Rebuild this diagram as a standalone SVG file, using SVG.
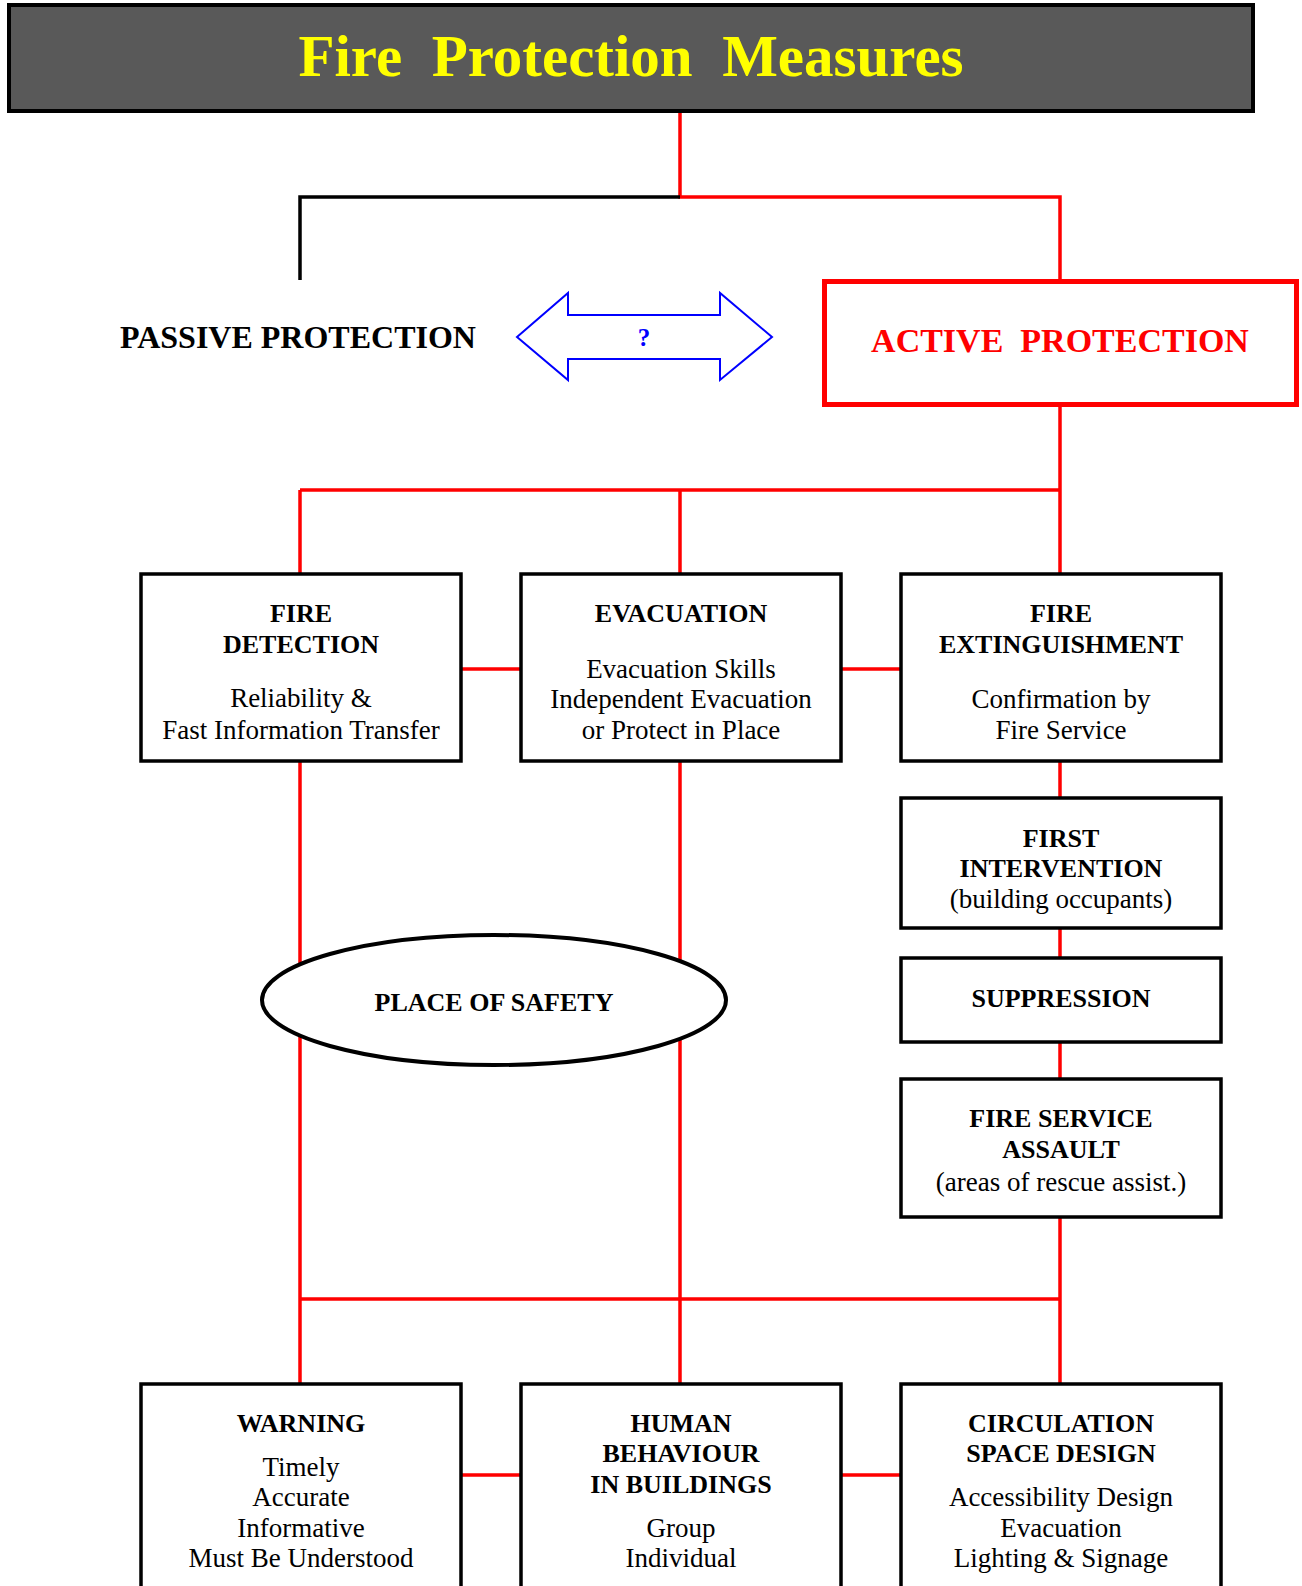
<svg xmlns="http://www.w3.org/2000/svg" width="1302" height="1586" viewBox="0 0 1302 1586">
<style>
text{font-family:"Liberation Serif","Times New Roman",serif;text-anchor:middle;fill:#000}
.b{font-weight:bold;font-size:26px}
.r{font-size:27px}
.box{fill:#fff;stroke:#000;stroke-width:3.5}
.red{stroke:#f00;stroke-width:3.5;fill:none}
</style>
<rect width="1302" height="1586" fill="#fff"/>
<g id="connectors">
<path class="red" d="M680 111V197H1060V282"/>
<path d="M680 197H300V280" fill="none" stroke="#000" stroke-width="3.5"/>
<path class="red" d="M1060 405V490M300 490H1060M300 490V574M680 490V574M1060 490V574"/>
<path class="red" d="M461 669H521M841 669H900"/>
<path class="red" d="M300 761V1384M680 761V1384M1060 761V798M1060 928V958M1060 1042V1079M1060 1217V1384M300 1299H1060"/>
<path class="red" d="M461 1475H521M841 1475H900"/>
</g>
<g id="title">
<rect x="9" y="5" width="1244" height="106" fill="#595959" stroke="#000" stroke-width="4"/>
<text x="631" y="76" style="font-size:59px;font-weight:bold;fill:#ff0" xml:space="preserve">Fire  Protection  Measures</text>
</g>
<g id="passive">
<text x="298" y="348" style="font-size:32px;font-weight:bold">PASSIVE PROTECTION</text>
</g>
<g id="arrow">
<path d="M517 337L568 293V315H720V293L772 337L720 380V359H568V380Z" fill="#fff" stroke="#00f" stroke-width="2"/>
<text x="644" y="346" style="font-size:25px;font-weight:bold;fill:#00f">?</text>
</g>
<g id="active">
<rect x="824.5" y="281.5" width="472" height="123" fill="#fff" stroke="#f00" stroke-width="5"/>
<text x="1060" y="352" xml:space="preserve" style="font-size:34px;font-weight:bold;fill:#f00">ACTIVE  PROTECTION</text>
</g>
<g id="fire-detection">
<rect class="box" x="141" y="574" width="320" height="187"/>
<text class="b" x="301" y="622">FIRE</text>
<text class="b" x="301" y="653">DETECTION</text>
<text class="r" x="301" y="707">Reliability &amp;</text>
<text class="r" x="301" y="739">Fast Information Transfer</text>
</g>
<g id="evacuation">
<rect class="box" x="521" y="574" width="320" height="187"/>
<text class="b" x="681" y="622">EVACUATION</text>
<text class="r" x="681" y="678">Evacuation Skills</text>
<text class="r" x="681" y="708">Independent Evacuation</text>
<text class="r" x="681" y="739">or Protect in Place</text>
</g>
<g id="fire-extinguishment">
<rect class="box" x="901" y="574" width="320" height="187"/>
<text class="b" x="1061" y="622">FIRE</text>
<text class="b" x="1061" y="653">EXTINGUISHMENT</text>
<text class="r" x="1061" y="708">Confirmation by</text>
<text class="r" x="1061" y="739">Fire Service</text>
</g>
<g id="first-intervention">
<rect class="box" x="901" y="798" width="320" height="130"/>
<text class="b" x="1061" y="847">FIRST</text>
<text class="b" x="1061" y="877">INTERVENTION</text>
<text class="r" x="1061" y="908">(building occupants)</text>
</g>
<g id="suppression">
<rect class="box" x="901" y="958" width="320" height="84"/>
<text class="b" x="1061" y="1007">SUPPRESSION</text>
</g>
<g id="fire-service-assault">
<rect class="box" x="901" y="1079" width="320" height="138"/>
<text class="b" x="1061" y="1127">FIRE SERVICE</text>
<text class="b" x="1061" y="1158">ASSAULT</text>
<text class="r" x="1061" y="1191">(areas of rescue assist.)</text>
</g>
<g id="place-of-safety">
<ellipse cx="494" cy="1000" rx="232" ry="65" fill="#fff" stroke="#000" stroke-width="4"/>
<text class="b" x="494" y="1011">PLACE OF SAFETY</text>
</g>
<g id="warning">
<rect class="box" x="141" y="1384" width="320" height="230"/>
<text class="b" x="301" y="1432">WARNING</text>
<text class="r" x="301" y="1476">Timely</text>
<text class="r" x="301" y="1506">Accurate</text>
<text class="r" x="301" y="1537">Informative</text>
<text class="r" x="301" y="1567">Must Be Understood</text>
</g>
<g id="human-behaviour">
<rect class="box" x="521" y="1384" width="320" height="230"/>
<text class="b" x="681" y="1432">HUMAN</text>
<text class="b" x="681" y="1462">BEHAVIOUR</text>
<text class="b" x="681" y="1493">IN BUILDINGS</text>
<text class="r" x="681" y="1537">Group</text>
<text class="r" x="681" y="1567">Individual</text>
</g>
<g id="circulation">
<rect class="box" x="901" y="1384" width="320" height="230"/>
<text class="b" x="1061" y="1432">CIRCULATION</text>
<text class="b" x="1061" y="1462">SPACE DESIGN</text>
<text class="r" x="1061" y="1506">Accessibility Design</text>
<text class="r" x="1061" y="1537">Evacuation</text>
<text class="r" x="1061" y="1567">Lighting &amp; Signage</text>
</g>
</svg>
